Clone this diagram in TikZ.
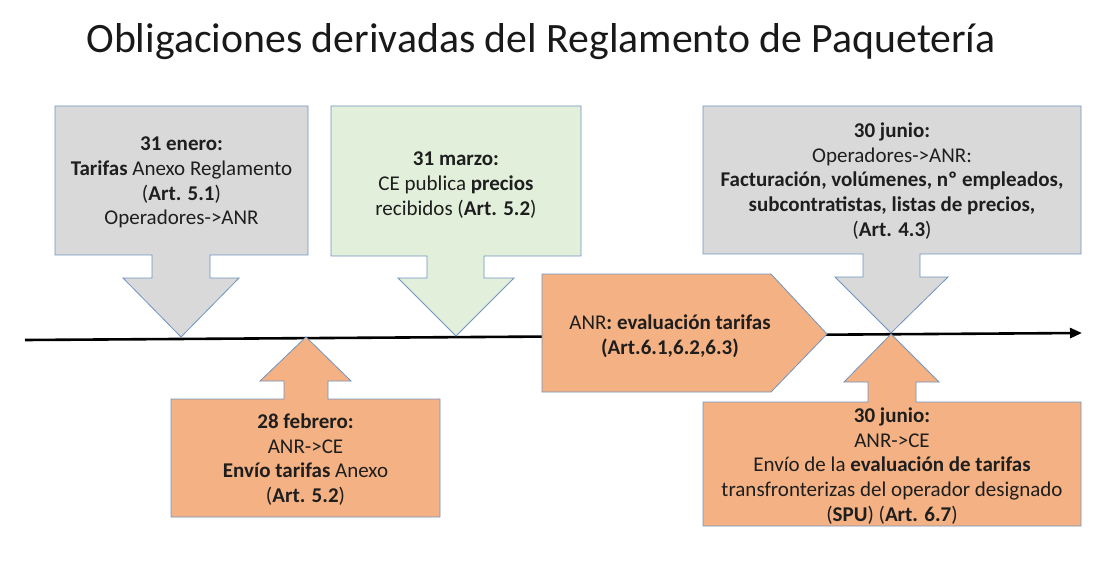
\documentclass[tikz,border=0pt]{standalone}
\usepackage{fontspec}
\setmainfont{Carlito}
\usetikzlibrary{arrows.meta}
\definecolor{boxgray}{HTML}{D9D9D9}
\definecolor{boxgreen}{HTML}{E2EFDA}
\definecolor{boxorange}{HTML}{F4B183}
\definecolor{edgeblue}{HTML}{6F94C0}
\definecolor{txt}{HTML}{1E1E1E}
\tikzset{
  callout/.style={draw=edgeblue, line width=0.8pt, line join=miter},
  grayc/.style={callout, fill=boxgray},
  greenc/.style={callout, fill=boxgreen},
  orangec/.style={callout, fill=boxorange},
  lbl/.style={align=center, text=txt, inner sep=0pt, font=\fontsize{21}{24.7}\selectfont},
  timeline/.style={line width=2.6pt, -{Triangle[length=12pt,width=10pt]}}
}
\begin{document}
\begin{tikzpicture}[x=1pt,y=-1pt]
\useasboundingbox (0,0) rectangle (1110,561);
% title
\node[text=black!90, font=\fontsize{41.8}{48}\selectfont] (title) at (541,42) {Obligaciones derivadas del Reglamento de Paquetería};
% timeline
\coordinate (tstart) at (25,340);
\coordinate (tend) at (1082,333);
\draw[timeline] (tstart) -- (tend);
% 31 enero (gray, down arrow)
\draw[grayc] (55,106) -- (308,106) -- (308,255) -- (210,255) -- (210,278) -- (239,278)
  -- (181,337) -- (123,278) -- (152,278) -- (152,255) -- (55,255) -- cycle;
\node[lbl] (enero) at (181.5,182.5) {\textbf{31 enero:}\\\textbf{Tarifas} Anexo Reglamento\\(\textbf{Art. 5.1})\\Operadores->ANR};
% 31 marzo (green, down arrow)
\draw[greenc] (331,106) -- (581,106) -- (581,256) -- (484,256) -- (484,278) -- (514,278)
  -- (456,336) -- (398,278) -- (427,278) -- (427,256) -- (331,256) -- cycle;
\node[lbl] (marzo) at (456,185) {\textbf{31 marzo:}\\CE publica \textbf{precios}\\recibidos (\textbf{Art. 5.2})};
% 30 junio top (gray, down arrow)
\draw[grayc] (703,106) -- (1081,106) -- (1081,254) -- (920,254) -- (920,277) -- (948,277)
  -- (891,333) -- (835,277) -- (863,277) -- (863,254) -- (703,254) -- cycle;
\node[lbl] (junio1) at (892,181) {\textbf{30 junio:}\\Operadores->ANR:\\\textbf{Facturación, volúmenes, nº empleados,}\\\textbf{subcontratistas, listas de precios,}\\(\textbf{Art. 4.3})};
% ANR evaluacion (orange pentagon)
\draw[orangec] (542,274) -- (771,274) -- (827,334) -- (771,392) -- (542,392) -- cycle;
\node[lbl] (evaluacion) at (670,336) {ANR\textbf{: evaluación tarifas}\\\textbf{(Art.6.1,6.2,6.3)}};
% 28 febrero (orange, up arrow)
\draw[orangec] (171,517) -- (440,517) -- (440,399) -- (328,399) -- (328,381) -- (351,381)
  -- (306,337) -- (260,381) -- (284,381) -- (284,399) -- (171,399) -- cycle;
\node[lbl] (febrero) at (305.5,459.5) {\textbf{28 febrero:}\\ANR->CE\\\textbf{Envío tarifas} Anexo\\(\textbf{Art. 5.2})};
% 30 junio bottom (orange, up arrow)
\draw[orangec] (703,526) -- (1081,526) -- (1081,402) -- (916,402) -- (916,382) -- (939,382)
  -- (891,334) -- (844,382) -- (868,382) -- (868,402) -- (703,402) -- cycle;
\node[lbl] (junio2) at (892,466) {\textbf{30 junio:}\\ANR->CE\\Envío de la \textbf{evaluación de tarifas}\\transfronterizas del operador designado\\(\textbf{SPU}) (\textbf{Art. 6.7})};
\end{tikzpicture}
\end{document}
